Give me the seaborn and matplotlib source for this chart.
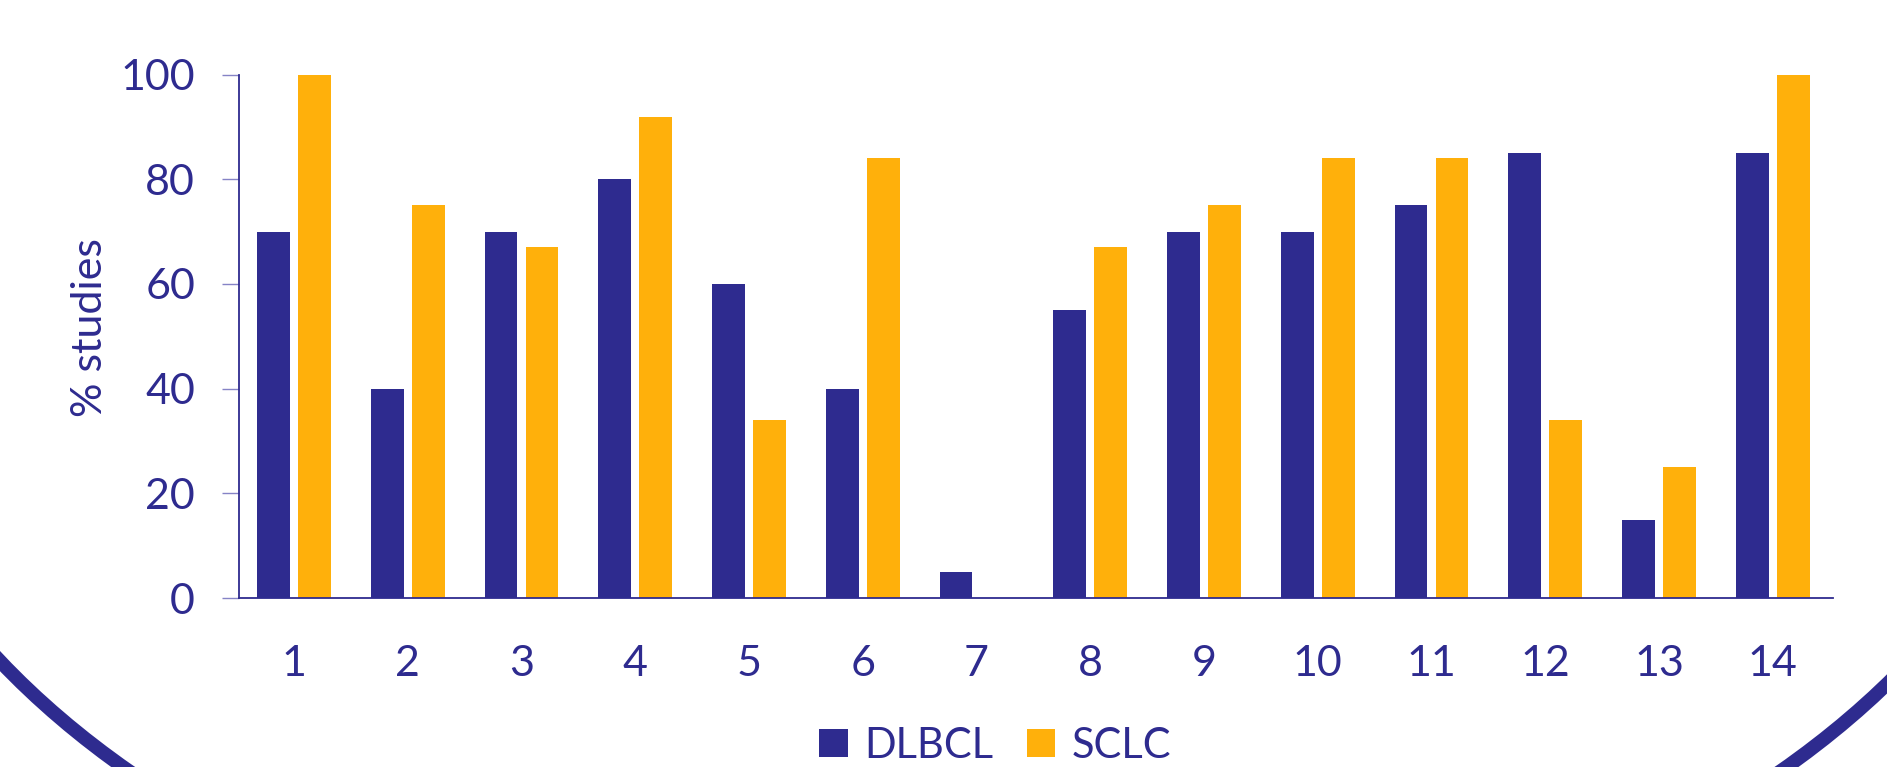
import matplotlib
matplotlib.use("Agg")
import matplotlib.pyplot as plt
from matplotlib.patches import Ellipse
import pandas as pd
import seaborn as sns

# values
categories = [str(i) for i in range(1, 15)]
dlbcl = [70, 40, 70, 80, 60, 40, 5, 55, 70, 70, 75, 85, 15, 85]
sclc = [100, 75, 67, 92, 34, 84, 0, 67, 75, 84, 84, 34, 25, 100]
series_names = ["DLBCL", "SCLC"]
y_ticks = [0, 20, 40, 60, 80, 100]

NAVY = "#2E2B8F"
ORANGE = "#FFB00B"
TICK = "#8583C6"

sns.set_theme(style="white")
plt.rcParams["font.family"] = ["Lato", "DejaVu Sans"]
plt.rcParams["text.color"] = NAVY

df = pd.DataFrame({
    "category": categories * 2,
    "group": [series_names[0]] * len(dlbcl) + [series_names[1]] * len(sclc),
    "value": dlbcl + sclc,
})

fig = plt.figure(figsize=(18.87, 7.67), dpi=100)
ax = fig.add_axes([0.1269, 0.2203, 0.9714 - 0.1269, 0.9027 - 0.2203])

sns.barplot(
    data=df, x="category", y="value", hue="group",
    palette=[NAVY, ORANGE], saturation=1, width=0.72, gap=0.2,
    linewidth=0, ax=ax, legend=True,
)

ax.set_xlim(-0.48, 13.53)
ax.set_ylim(0, 100)
ax.set_yticks(y_ticks)
ax.set_xlabel("")
ax.set_ylabel("% studies", fontsize=31, color=NAVY)
ax.yaxis.set_label_coords(-0.082, 0.516)

for side in ["top", "right"]:
    ax.spines[side].set_visible(False)
for side in ["left", "bottom"]:
    ax.spines[side].set_color(NAVY)
    ax.spines[side].set_linewidth(1.3)

ax.tick_params(axis="y", left=True, length=12, width=1, color=TICK,
               labelsize=31, labelcolor=NAVY, pad=20)
ax.tick_params(axis="x", bottom=False, length=0, labelsize=31,
               labelcolor=NAVY, pad=34)

ax.legend_.remove()
handles, labels = ax.get_legend_handles_labels()
fig.legend(
    handles, labels, loc="center", bbox_to_anchor=(0.5275, 0.028),
    ncol=2, frameon=False, fontsize=30, labelcolor=NAVY,
    handlelength=0.68, handleheight=0.68, handletextpad=0.4,
    columnspacing=0.8,
)

# decorative oval behind the chart
oval = Ellipse((0.506, 0.609), 1.1797, 1.833, transform=fig.transFigure,
               fill=False, edgecolor=NAVY, linewidth=10, zorder=0)
fig.add_artist(oval)

fig.savefig("out.png", dpi=100, facecolor="white")
